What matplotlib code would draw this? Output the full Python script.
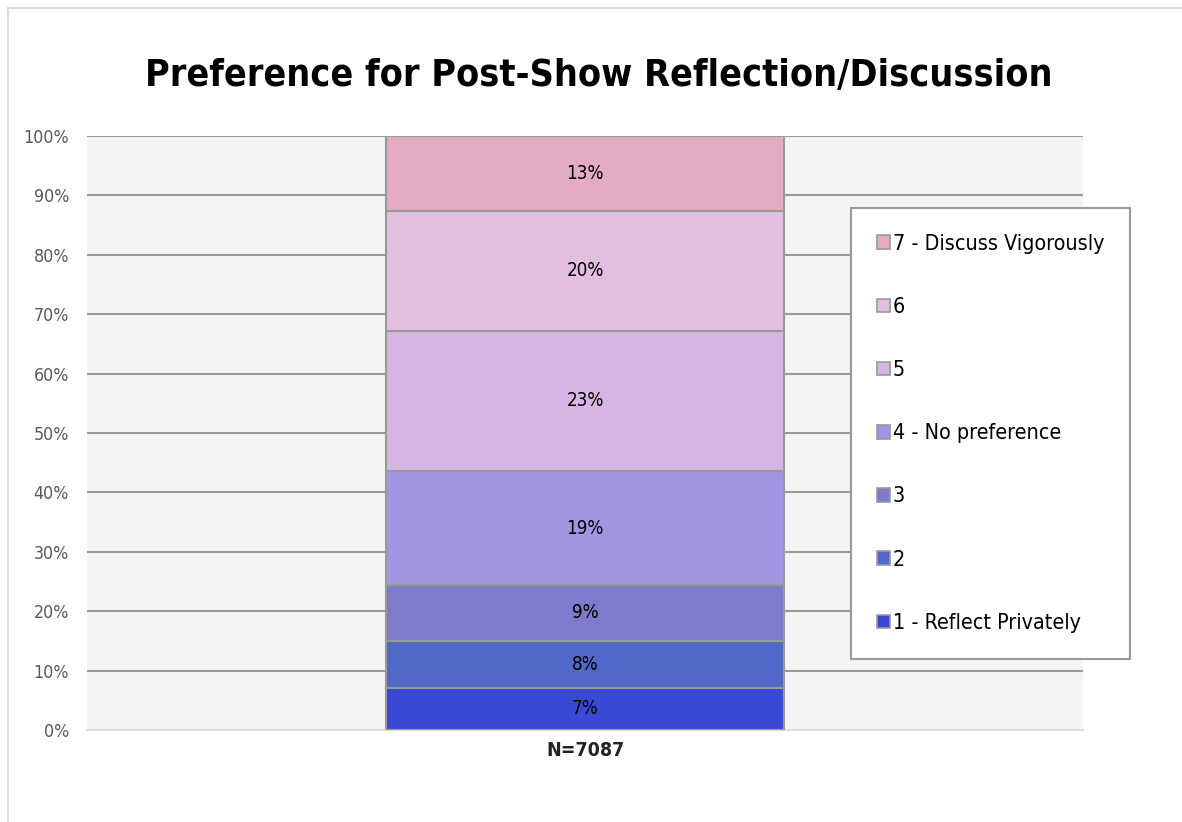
import matplotlib
matplotlib.use("Agg")
import matplotlib.pyplot as plt
from matplotlib.patches import Patch
from matplotlib.lines import Line2D

categories = ["N=7087"]
series_labels = ["1 - Reflect Privately", "2", "3", "4 - No preference", "5", "6", "7 - Discuss Vigorously"]
values = [7.1, 7.9, 9.4, 19.2, 23.6, 20.2, 12.6]
value_labels = ["7%", "8%", "9%", "19%", "23%", "20%", "13%"]
colors = ["#3949d4", "#5068c8", "#7e7acc", "#a495e4", "#d4b5e4", "#e2bfdf", "#e4acc4"]
yticks = [0, 10, 20, 30, 40, 50, 60, 70, 80, 90, 100]
ytick_labels = [f"{t}%" for t in yticks]
title = "Preference for Post-Show Reflection/Discussion"

FONT = "DejaVu Sans"
plt.rcParams['font.family'] = [FONT]
plt.rcParams['font.stretch'] = 'condensed'

fig = plt.figure(figsize=(11.82, 8.22), dpi=100)
fig.patch.set_facecolor("white")
ax = fig.add_axes([87/1182, 1-730/822, (1083-87)/1182, (730-136)/822])
ax.set_facecolor("#f4f4f4")

bottom = 0
for v, lab, c, vl in zip(values, series_labels, colors, value_labels):
    ax.bar(0, v, width=1.0, bottom=bottom, color=c, edgecolor="#999999", linewidth=1.5, label=lab, zorder=3)
    ax.text(0, bottom + v/2, vl, ha="center", va="center", fontsize=13.5, color="black", zorder=4)
    bottom += v

ax.set_xlim(-1.25, 1.25)
ax.set_ylim(0, 100)
ax.set_yticks(yticks)
ax.set_yticklabels(ytick_labels, fontsize=12.8, color="#595959")
ax.set_xticks([0])
ax.set_xticklabels(categories, fontsize=14, fontweight="bold", color="#222222")
ax.tick_params(axis="y", length=0, pad=13)
ax.tick_params(axis="x", length=0, pad=8)
for t in yticks[1:]:
    ax.axhline(t, color="#999999", linewidth=1.5, zorder=1)
for s in ["top", "right", "left"]:
    ax.spines[s].set_visible(False)
ax.spines["bottom"].set_color("#dddddd")
ax.spines["bottom"].set_linewidth(1.5)

fig.text(599/1182, 1-76/822, title, ha="center", va="center", fontsize=27, fontweight="bold", color="black")

handles = [Patch(facecolor=c, edgecolor="#999999", linewidth=1.2) for c in colors][::-1]
leg = fig.legend(handles, series_labels[::-1], loc="upper left",
                 bbox_to_anchor=(851/1182, 1-208/822), bbox_transform=fig.transFigure,
                 frameon=True, fancybox=False, fontsize=15.4, handlelength=0.6, handleheight=0.6,
                 handletextpad=0.15, labelspacing=2.02, borderpad=1.2, borderaxespad=0)
leg.get_frame().set_edgecolor("#999999")
leg.get_frame().set_linewidth(1.5)
leg.get_frame().set_facecolor("white")
leg.get_frame().set_alpha(1)

fig.add_artist(Line2D([8/1182, 8/1182], [0, 1-8/822], transform=fig.transFigure, color="#dddddd", linewidth=1.5))
fig.add_artist(Line2D([8/1182, 1], [1-8/822, 1-8/822], transform=fig.transFigure, color="#dddddd", linewidth=1.5))

fig.savefig("out.png", dpi=100, facecolor="white")
